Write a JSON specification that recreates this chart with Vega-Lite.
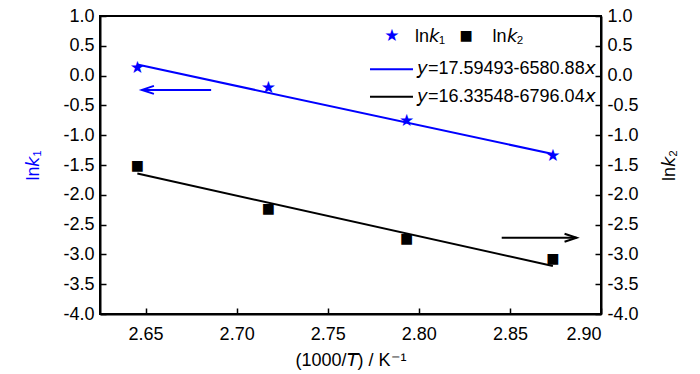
{
  "$schema": "https://vega.github.io/schema/vega-lite/v6.json",
  "width": 501,
  "height": 298,
  "autosize": {"type": "none"},
  "padding": {"left": 100, "top": 16, "right": 99, "bottom": 60},
  "background": "white",
  "config": {
    "font": "Liberation Sans",
    "view": {"stroke": "black", "strokeWidth": 2},
    "axis": {
      "grid": false,
      "domainColor": "black",
      "domainWidth": 2,
      "tickColor": "black",
      "tickWidth": 1.5,
      "tickSize": -6,
      "labelFont": "Liberation Sans",
      "labelFontSize": 18,
      "labelColor": "black",
      "labelPadding": 12,
      "titleFont": "Liberation Sans",
      "titleFontSize": 18,
      "titleFontWeight": "normal",
      "titleColor": "black"
    }
  },
  "encoding": {
    "x": {"field": "x", "type": "quantitative", "scale": {"domain": [2.625, 2.9], "nice": false, "zero": false},
      "axis": {"title": "(1000/𝘛) / K⁻¹", "values": [2.65, 2.7, 2.75, 2.8, 2.85, 2.9], "format": ".2f", "labelPadding": 17, "titlePadding": 8}}
  },
  "layer": [
    {
      "data": {"values": [
        {"x": 2.6455, "y": 0.185, "seg": "fit", "o": 1}, {"x": 2.8736, "y": -1.316, "seg": "fit", "o": 2},
        {"x": 2.686, "y": -0.24, "seg": "shaft", "o": 1}, {"x": 2.648, "y": -0.24, "seg": "shaft", "o": 2},
        {"x": 2.6546, "y": -0.173, "seg": "head", "o": 1}, {"x": 2.648, "y": -0.24, "seg": "head", "o": 2}, {"x": 2.6546, "y": -0.307, "seg": "head", "o": 3},
        {"x": 2.7732, "y": 0.105, "seg": "leg", "o": 1}, {"x": 2.7968, "y": 0.105, "seg": "leg", "o": 2}
      ]},
      "mark": {"type": "line", "color": "#0000ff", "strokeWidth": 2},
      "encoding": {
        "y": {"field": "y", "type": "quantitative", "scale": {"domain": [-4, 1], "nice": false, "zero": false},
          "axis": {"orient": "left", "title": "ln𝘬₁", "titleColor": "#0000ff", "values": [-4, -3.5, -3, -2.5, -2, -1.5, -1, -0.5, 0, 0.5, 1],
            "labelExpr": "datum.value < 0 ? '-' + format(-datum.value, '.1f') : format(datum.value, '.1f')", "titlePadding": 20}},
        "detail": {"field": "seg"},
        "order": {"field": "o"}
      }
    },
    {
      "data": {"values": [
        {"x": 2.6455, "y": 0.128}, {"x": 2.7174, "y": -0.206}, {"x": 2.7933, "y": -0.769}, {"x": 2.8736, "y": -1.354},
        {"x": 2.7852, "y": 0.666}
      ]},
      "mark": {"type": "text", "text": "★", "font": "DejaVu Sans", "fontSize": 17, "color": "#0000ff", "align": "center", "baseline": "middle"},
      "encoding": {
        "y": {"field": "y", "type": "quantitative", "scale": {"domain": [-4, 1], "nice": false, "zero": false}, "axis": null}
      }
    },
    {
      "data": {"values": [
        {"x": 2.6455, "y": -1.644, "seg": "fit", "o": 1}, {"x": 2.8736, "y": -3.194, "seg": "fit", "o": 2},
        {"x": 2.8455, "y": -2.72, "seg": "shaft", "o": 1}, {"x": 2.8866, "y": -2.72, "seg": "shaft", "o": 2},
        {"x": 2.88, "y": -2.653, "seg": "head", "o": 1}, {"x": 2.8866, "y": -2.72, "seg": "head", "o": 2}, {"x": 2.88, "y": -2.787, "seg": "head", "o": 3},
        {"x": 2.7732, "y": -0.354, "seg": "leg", "o": 1}, {"x": 2.7968, "y": -0.354, "seg": "leg", "o": 2}
      ]},
      "mark": {"type": "line", "color": "black", "strokeWidth": 2},
      "encoding": {
        "y": {"field": "y", "type": "quantitative", "scale": {"domain": [-4, 1], "nice": false, "zero": false},
          "axis": {"orient": "right", "title": "ln𝘬₂", "titleAngle": 270, "values": [-4, -3.5, -3, -2.5, -2, -1.5, -1, -0.5, 0, 0.5, 1],
            "labelExpr": "datum.value < 0 ? '-' + format(-datum.value, '.1f') : format(datum.value, '.1f')", "titlePadding": 40}},
        "detail": {"field": "seg"},
        "order": {"field": "o"}
      }
    },
    {
      "data": {"values": [
        {"x": 2.6455, "y": -1.52}, {"x": 2.7174, "y": -2.246}, {"x": 2.7933, "y": -2.742}, {"x": 2.8736, "y": -3.077},
        {"x": 2.826, "y": 0.666}
      ]},
      "mark": {"type": "text", "text": "■", "font": "DejaVu Sans", "fontSize": 14, "color": "black", "align": "center", "baseline": "middle"},
      "encoding": {
        "y": {"field": "y", "type": "quantitative", "scale": {"domain": [-4, 1], "nice": false, "zero": false}, "axis": null}
      }
    },
    {
      "data": {"values": [
        {"x": 2.7979, "y": 0.64, "label": "ln𝘬₁"},
        {"x": 2.8405, "y": 0.64, "label": "ln𝘬₂"},
        {"x": 2.799, "y": 0.105, "label": "𝘺=17.59493-6580.88𝘹"},
        {"x": 2.799, "y": -0.354, "label": "𝘺=16.33548-6796.04𝘹"}
      ]},
      "mark": {"type": "text", "align": "left", "baseline": "middle", "fontSize": 18, "font": "Liberation Sans", "color": "black"},
      "encoding": {
        "y": {"field": "y", "type": "quantitative", "scale": {"domain": [-4, 1], "nice": false, "zero": false}, "axis": null},
        "text": {"field": "label"}
      }
    }
  ],
  "resolve": {"scale": {"y": "independent"}}
}
